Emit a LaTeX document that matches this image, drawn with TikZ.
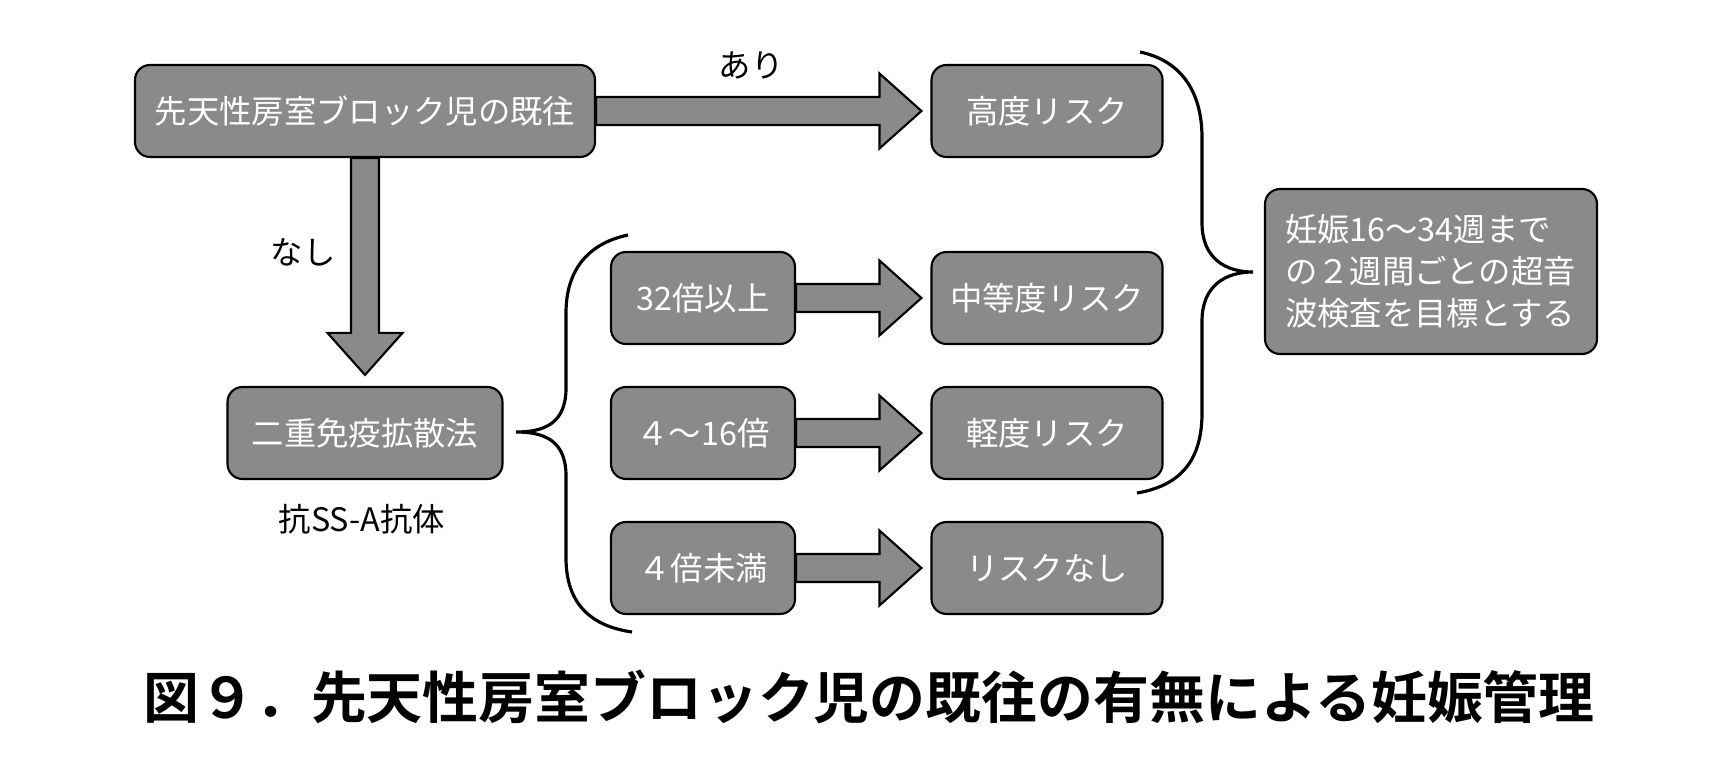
\documentclass[tikz,border=0pt]{standalone}
\usepackage{fontspec}
\setmainfont{Noto Sans CJK JP}[BoldFont={Noto Sans CJK JP Bold}]
\usetikzlibrary{calc}
\definecolor{boxgray}{RGB}{138,138,138}

\newcommand{\blockarrow}[2]{%
  \coordinate (bs) at (#1);
  \coordinate (be) at (#2);
  \coordinate (bh) at ($(be)!0.42cm!(bs)$);
  \draw[fat] ($(bs)!0.14cm!90:(be)$) -- ($(bh)!0.14cm!-90:(bs)$) -- ($(bh)!0.375cm!-90:(bs)$) -- (be)
    -- ($(bh)!0.375cm!90:(bs)$) -- ($(bh)!0.14cm!90:(bs)$) -- ($(bs)!0.14cm!-90:(be)$) -- cycle;}

\begin{document}
\begin{tikzpicture}[
  box/.style = {draw,fill=boxgray,line width=0.6pt,rounded corners=0.15cm,text=white,inner sep=0pt,
    minimum height=0.92cm,font=\fontsize{9.2}{12}\selectfont},
  lbl/.style = {font=\fontsize{9.2}{12}\selectfont},
  fat/.style = {draw,fill=boxgray,line width=0.6pt,line join=miter},
  brace/.style = {line width=0.9pt}
  ]
  \useasboundingbox (0,0) rectangle (17.13,7.68);
  \node[box,minimum width=4.60cm] (hist) at (3.65,6.57) {先天性房室ブロック児の既往};
  \node[box,minimum width=2.31cm] (high) at (10.47,6.57) {高度リスク};
  \node[box,minimum width=2.75cm] (dif) at (3.65,3.35) {二重免疫拡散法};
  \node[box,minimum width=1.84cm] (t32) at (7.03,4.70) {32倍以上};
  \node[box,minimum width=1.84cm] (t4) at (7.03,3.35) {４～16倍};
  \node[box,minimum width=1.84cm] (t0) at (7.03,2.00) {４倍未満};
  \node[box,minimum width=2.31cm] (mid) at (10.47,4.70) {中等度リスク};
  \node[box,minimum width=2.31cm] (low) at (10.47,3.35) {軽度リスク};
  \node[box,minimum width=2.31cm] (none) at (10.47,2.00) {リスクなし};
  \node[box,minimum width=3.32cm,minimum height=1.65cm,text width=2.92cm,align=left,
    font=\fontsize{9.2}{11.95}\selectfont] (goal) at (14.31,4.965)
    {妊娠16～34週まで\\の２週間ごとの超音\\波検査を目標とする};
  \node[lbl] (ari) at (7.51,7.03) {あり};
  \node[lbl] (nashi) at (3.03,5.16) {なし};
  \node[lbl] (anti) at (3.62,2.49) {抗SS-A抗体};
  \blockarrow{hist.east}{$(high.west)+(-0.09,0)$}
  \blockarrow{hist.south}{$(dif.north)+(0,0.11)$}
  \blockarrow{t32.east}{$(mid.west)+(-0.09,0)$}
  \blockarrow{t4.east}{$(low.west)+(-0.09,0)$}
  \blockarrow{t0.east}{$(none.west)+(-0.09,0)$}
  \draw[brace] (6.28,5.33) .. controls (5.90,5.25) and (5.66,5.00) .. (5.66,4.55) -- (5.66,3.80)
    .. controls (5.66,3.45) and (5.45,3.36) .. (5.16,3.36) .. controls (5.45,3.36) and (5.66,3.27) .. (5.66,2.92)
    -- (5.66,2.10) .. controls (5.66,1.65) and (5.90,1.42) .. (6.32,1.36);
  \draw[brace] (11.40,7.16) .. controls (11.78,7.08) and (12.02,6.80) .. (12.02,6.30) -- (12.02,5.45)
    .. controls (12.02,5.10) and (12.25,4.96) .. (12.53,4.96) .. controls (12.25,4.96) and (12.02,4.82) .. (12.02,4.47)
    -- (12.02,3.55) .. controls (12.02,3.05) and (11.78,2.82) .. (11.37,2.75);
  \node (title) at (8.69,0.71) {\bfseries\fontsize{15.9}{19}\selectfont 図９．先天性房室ブロック児の既往の有無による妊娠管理};
\end{tikzpicture}
\end{document}
